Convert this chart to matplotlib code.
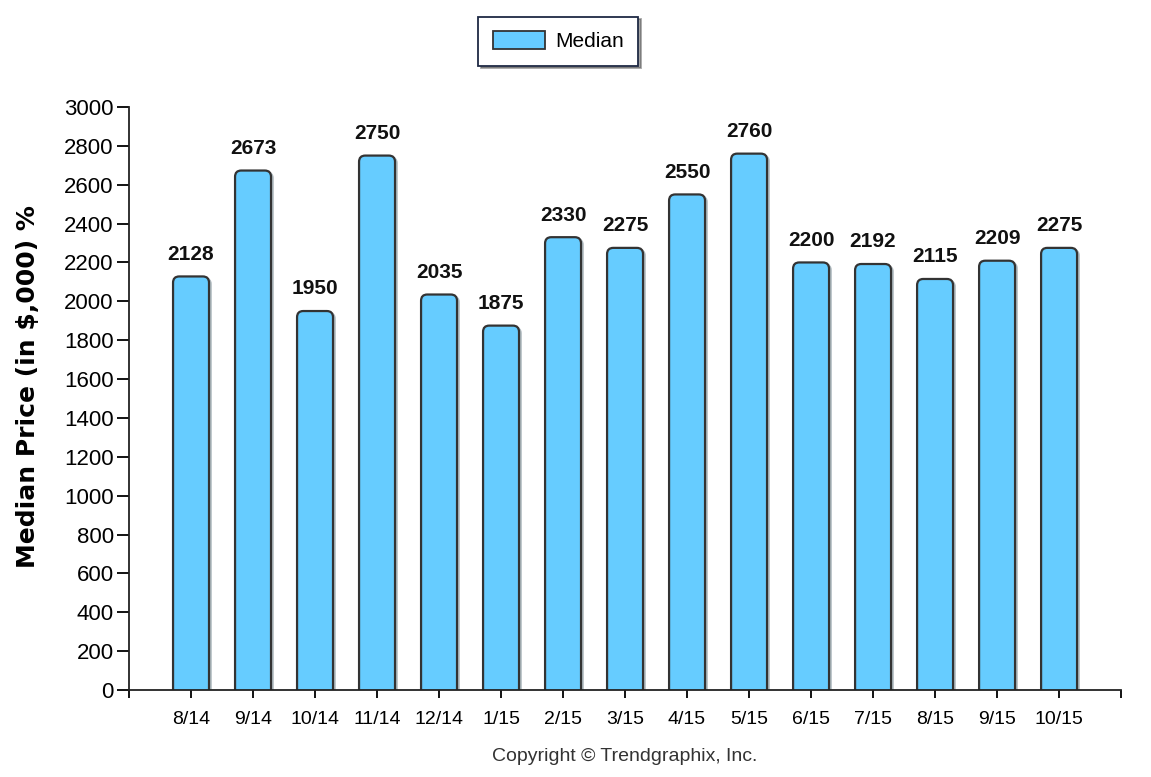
import numpy as np
import matplotlib.pyplot as plt
from matplotlib.patches import FancyBboxPatch, Patch
import matplotlib.patheffects as pe

plt.rcParams['font.family'] = ['Liberation Sans', 'DejaVu Sans']

months = ["8/14", "9/14", "10/14", "11/14", "12/14", "1/15", "2/15", "3/15",
          "4/15", "5/15", "6/15", "7/15", "8/15", "9/15", "10/15"]
median = [2128, 2673, 1950, 2750, 2035, 1875, 2330, 2275,
          2550, 2760, 2200, 2192, 2115, 2209, 2275]

bar_color = "#66CCFF"
edge_color = "#333333"

fig = plt.figure(figsize=(11.51, 7.77), dpi=100)
ax = fig.add_axes([0.1121, 0.112, 0.8619, 0.7503])

x = np.arange(len(months))
w = 0.58
shadow = [pe.SimplePatchShadow(offset=(2, -1), alpha=0.35), pe.Normal()]
for xi, v in zip(x, median):
    # rounded top corners; bottom pushed below 0 so it gets clipped
    p = FancyBboxPatch((xi - w / 2, -60), w, v + 60,
                       boxstyle="round,pad=0,rounding_size=0.1",
                       mutation_aspect=320,
                       facecolor=bar_color, edgecolor=edge_color, linewidth=1.6)
    p.set_path_effects(shadow)
    ax.add_patch(p)
    ax.text(xi, v + 65, str(v), ha="center", va="bottom",
            fontsize=15, fontweight="bold", color="#111111")

ax.set_xlim(-1, 15)
ax.set_ylim(0, 3000)
ax.set_yticks(range(0, 3001, 200))
ax.set_xticks(x)
ax.set_xticklabels(months, fontsize=14)
ax.set_xticks([-1, 15], minor=True)
ax.tick_params(axis="x", which="both", direction="out", length=6, width=1.3, pad=9)
ax.tick_params(axis="y", direction="out", length=9, width=1.3, labelsize=16, pad=2)

for s in ["top", "right"]:
    ax.spines[s].set_visible(False)
for s in ["left", "bottom"]:
    ax.spines[s].set_linewidth(1.3)
    ax.spines[s].set_color("#222222")

ax.set_ylabel("Median Price (in $,000) %", fontsize=18, fontweight="bold",
              family=["DejaVu Sans"])
ax.yaxis.set_label_coords(-0.09, 0.52)

fig.text(0.543, 0.027, "Copyright \u00a9 Trendgraphix, Inc.", ha="center",
         va="center", fontsize=14, color="#333333")

handle = Patch(facecolor=bar_color, edgecolor=edge_color, linewidth=1.3)
leg = fig.legend([handle], ["Median"], loc="center", bbox_to_anchor=(0.485, 0.947),
                 fontsize=15, frameon=True, fancybox=False, shadow=True,
                 handlelength=2.5, handleheight=0.9, handletextpad=0.5,
                 borderpad=0.7, borderaxespad=0.0)
leg.get_frame().set_edgecolor("#1f2a44")
leg.get_frame().set_linewidth(1.3)

fig.savefig("out.png", dpi=100)
